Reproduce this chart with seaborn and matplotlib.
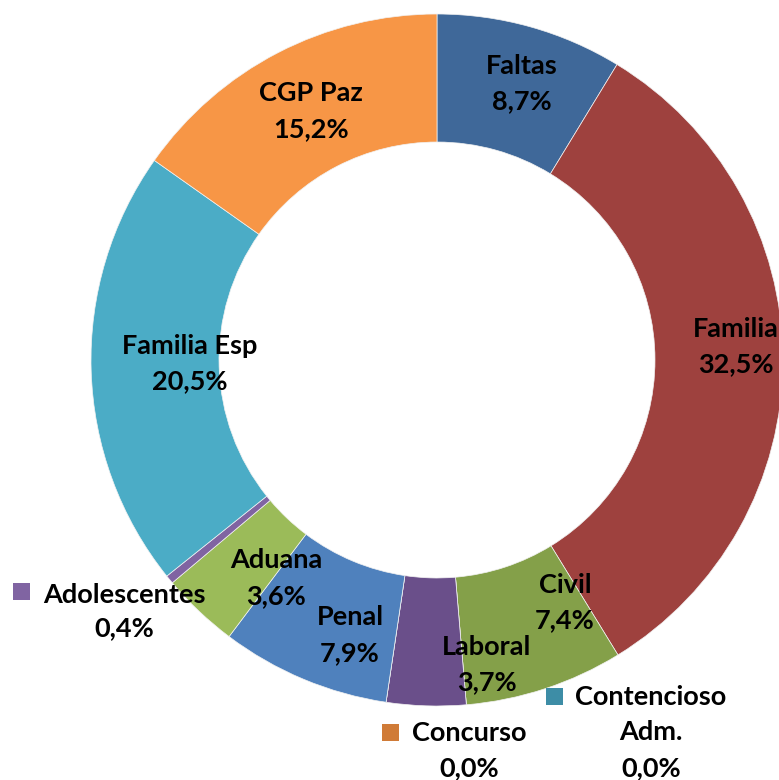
import matplotlib
matplotlib.use("Agg")
import matplotlib.pyplot as plt
from matplotlib.patches import Rectangle
import seaborn as sns

# ---- data (clockwise from 12 o'clock) ----
categories = ["Faltas", "Familia", "Civil", "Contencioso\nAdm.", "Laboral",
              "Concurso", "Penal", "Aduana", "Adolescentes", "Familia Esp", "CGP Paz"]
values = [8.7, 32.5, 7.4, 0.0, 3.7, 0.0, 7.9, 3.6, 0.4, 20.5, 15.2]
colors = ["#3F6899", "#9E413E", "#84A049", "#3D8DA6", "#6A4F8A",
          "#D07B37", "#4F81BD", "#9BBB59", "#8064A2", "#4BACC6", "#F79646"]

# ---- layout (pixels in a 779x780 canvas) ----
W, H = 779, 780
CX, CY, R = 437, 360, 346
label_pos = {  # (center x, first baseline y, line step)
    "Faltas": (522, 74, 35), "Familia": (736, 337, 35), "Civil": (565, 593, 35),
    "Contencioso\nAdm.": (651, 705, 35.5), "Laboral": (487, 655, 35),
    "Concurso": (469, 741, 35),
    "Penal": (350, 625, 36), "Aduana": (276, 568, 36), "Adolescentes": (124, 603, 33),
    "Familia Esp": (190, 354, 35), "CGP Paz": (311, 101, 36),
}
square_pos = {"Contencioso\nAdm.": (554.5, 696), "Concurso": (390.5, 732.5),
              "Adolescentes": (21.5, 591)}
SQ = 17

sns.set_theme(style="white")
plt.rcParams['font.family'] = ['Lato', 'DejaVu Sans']

fig = plt.figure(figsize=(W / 100, H / 100), dpi=100)
ax = fig.add_axes([(CX - R) / W, (H - (CY + R)) / H, 2 * R / W, 2 * R / H])
palette = sns.color_palette(colors)
ax.pie(values, colors=palette, startangle=90, counterclock=False, radius=1,
       wedgeprops=dict(width=0.37, edgecolor="#f2f2f2", linewidth=0.5))
ax.set_xlim(-1, 1)
ax.set_ylim(-1, 1)
ax.set_aspect("equal")
ax.axis("off")


def fx(px):
    return px / W


def fy(py):
    return 1 - py / H


for name, val in zip(categories, values):
    x, y, step = label_pos[name]
    lines = name.split("\n") + [f"{val:.1f}".replace(".", ",") + "%"]
    for i, line in enumerate(lines):
        fig.text(fx(x), fy(y + i * step), line, ha="center", va="baseline",
                 fontsize=19.5, fontweight="bold", color="black")

for name, (sx, sy) in square_pos.items():
    c = colors[categories.index(name)]
    fig.add_artist(Rectangle((fx(sx - SQ / 2), fy(sy + SQ / 2)), SQ / W, SQ / H,
                             transform=fig.transFigure, facecolor=c, edgecolor="none"))

fig.savefig("out.png", dpi=100)
